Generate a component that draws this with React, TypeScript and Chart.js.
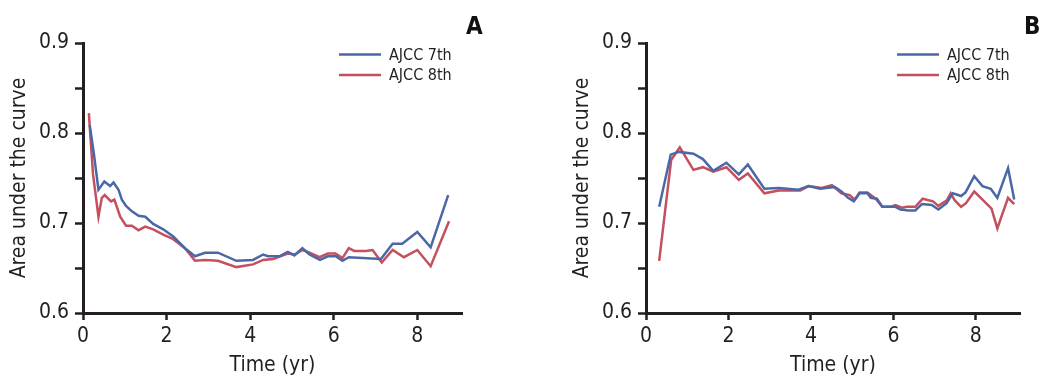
import React, { useEffect, useRef } from "react";
import { Chart, registerables } from "chart.js";

Chart.register(...registerables);

// ---------- data ----------
const seriesLabels = ["AJCC 7th", "AJCC 8th"];

// Panel A
const timeA7 = [0.16, 0.26, 0.37, 0.51, 0.65, 0.73, 0.85, 0.93, 1.03, 1.17, 1.33, 1.49, 1.68, 1.92, 2.16, 2.44, 2.68, 2.92, 3.23, 3.67, 4.07, 4.31, 4.43, 4.7, 4.9, 5.06, 5.25, 5.42, 5.67, 5.86, 6.05, 6.21, 6.36, 7.13, 7.41, 7.64, 8.0, 8.32, 8.74];
const aucA7 = [0.809, 0.777, 0.737, 0.746, 0.741, 0.745, 0.737, 0.726, 0.719, 0.713, 0.708, 0.707, 0.699, 0.693, 0.685, 0.672, 0.663, 0.667, 0.667, 0.658, 0.659, 0.665, 0.663, 0.663, 0.668, 0.664, 0.672, 0.665, 0.659, 0.663, 0.663, 0.658, 0.662, 0.66, 0.677, 0.677, 0.69, 0.673, 0.731];
const timeA8 = [0.14, 0.24, 0.37, 0.45, 0.52, 0.67, 0.75, 0.89, 1.03, 1.17, 1.33, 1.49, 1.68, 1.92, 2.16, 2.44, 2.68, 2.92, 3.23, 3.67, 4.07, 4.31, 4.55, 4.9, 5.06, 5.26, 5.42, 5.66, 5.86, 6.04, 6.21, 6.36, 6.49, 6.77, 6.93, 7.15, 7.41, 7.68, 8.0, 8.32, 8.76];
const aucA8 = [0.822, 0.754, 0.707, 0.728, 0.731, 0.724, 0.726, 0.707, 0.697, 0.697, 0.692, 0.696, 0.693, 0.687, 0.682, 0.672, 0.658, 0.659, 0.658, 0.651, 0.654, 0.659, 0.66, 0.666, 0.665, 0.67, 0.667, 0.662, 0.666, 0.666, 0.661, 0.672, 0.669, 0.669, 0.67, 0.656, 0.67, 0.662, 0.67, 0.652, 0.702];

// Panel B
const timeB7 = [0.32, 0.6, 0.8, 1.15, 1.38, 1.63, 1.95, 2.25, 2.47, 2.87, 3.22, 3.7, 3.94, 4.22, 4.58, 4.74, 4.9, 5.04, 5.18, 5.37, 5.45, 5.6, 5.73, 5.93, 6.05, 6.17, 6.37, 6.53, 6.69, 6.93, 7.09, 7.29, 7.44, 7.64, 7.75, 7.96, 8.16, 8.36, 8.52, 8.78, 8.93];
const aucB7 = [0.718, 0.776, 0.779, 0.777, 0.771, 0.758, 0.767, 0.754, 0.765, 0.738, 0.739, 0.737, 0.741, 0.738, 0.74, 0.735, 0.728, 0.724, 0.733, 0.733, 0.728, 0.727, 0.718, 0.718, 0.718, 0.715, 0.714, 0.714, 0.721, 0.72, 0.715, 0.722, 0.733, 0.73, 0.734, 0.752, 0.741, 0.738, 0.728, 0.761, 0.726];
const timeB8 = [0.32, 0.61, 0.82, 1.15, 1.38, 1.63, 1.95, 2.25, 2.47, 2.87, 3.22, 3.74, 3.94, 4.26, 4.51, 4.74, 4.94, 5.06, 5.18, 5.37, 5.57, 5.73, 5.93, 6.05, 6.21, 6.33, 6.53, 6.71, 6.96, 7.09, 7.29, 7.39, 7.49, 7.64, 7.76, 7.96, 8.16, 8.38, 8.52, 8.78, 8.93];
const aucB8 = [0.658, 0.77, 0.784, 0.759, 0.762, 0.757, 0.762, 0.748, 0.755, 0.733, 0.736, 0.736, 0.741, 0.739, 0.742, 0.733, 0.731, 0.726, 0.734, 0.734, 0.727, 0.718, 0.718, 0.72, 0.717, 0.718, 0.718, 0.727, 0.724, 0.719, 0.725, 0.733, 0.725, 0.718, 0.722, 0.735, 0.726, 0.716, 0.694, 0.728, 0.721];

// Axes
const xTickValues = [0, 2, 4, 6, 8];
const yTickValues = [0.6, 0.65, 0.7, 0.75, 0.8, 0.85, 0.9];
const yTickLabels = ["0.6", "", "0.7", "", "0.8", "", "0.9"];
const xTitle = "Time (yr)";
const yTitle = "Area under the curve";

// ---------- styles ----------
const BLUE = "#4a68a6";
const RED = "#c4505f";
const AXIS = "#231f20";
const TEXT = "#231f20";
const FAMILY = "'DejaVu Sans Condensed', 'Liberation Sans', sans-serif";
const TICK_SIZE = 21;
const TITLE_SIZE = 21;

const pair = (xs: number[], ys: number[]) => xs.map((x, i) => ({ x, y: ys[i] }));

const legendAndLetter = {
  id: "legendAndLetter",
  afterDraw(chart: any, _args: any, opts: any) {
    const { ctx, chartArea } = chart;
    ctx.save();
    chart.data.datasets.forEach((ds: any, i: number) => {
      const y = chartArea.top + 11.5 + i * 20.5;
      ctx.strokeStyle = ds.borderColor;
      ctx.lineWidth = 2.5;
      ctx.beginPath();
      ctx.moveTo(chartArea.right - 123, y);
      ctx.lineTo(chartArea.right - 81, y);
      ctx.stroke();
      ctx.fillStyle = TEXT;
      ctx.font = `16px ${FAMILY}`;
      ctx.textBaseline = "middle";
      ctx.textAlign = "left";
      ctx.fillText(ds.label, chartArea.right - 73, y + 1);
    });
    ctx.font = `bold 24px ${FAMILY}`;
    ctx.textBaseline = "alphabetic";
    ctx.textAlign = "left";
    ctx.fillStyle = "#111";
    ctx.fillText(opts.letter, chartArea.right + 4, 34);
    ctx.restore();
  },
};

function Panel(props: { letter: string; t7: number[]; a7: number[]; t8: number[]; a8: number[]; left: number; width: number; rightPad: number }) {
  const ref = useRef<HTMLCanvasElement>(null);
  useEffect(() => {
    if (!ref.current) return;
    const chart = new Chart(ref.current, {
      type: "line",
      data: {
        datasets: [
          { label: seriesLabels[0], data: pair(props.t7, props.a7), borderColor: BLUE, borderWidth: 2.5, pointRadius: 0, tension: 0, fill: false },
          { label: seriesLabels[1], data: pair(props.t8, props.a8), borderColor: RED, borderWidth: 2.5, pointRadius: 0, tension: 0, fill: false },
        ],
      },
      options: {
        animation: false,
        responsive: false,
        layout: { padding: { top: 43, right: props.rightPad, bottom: 0, left: 0 } },
        plugins: {
          legend: { display: false },
          tooltip: { enabled: false },
          legendAndLetter: { letter: props.letter },
        } as any,
        scales: {
          x: {
            type: "linear",
            min: 0,
            max: 9.07,
            afterBuildTicks: (s: any) => {
              s.ticks = xTickValues.map((v) => ({ value: v }));
            },
            afterFit: (s: any) => {
              s.height = 67;
            },
            grid: { drawOnChartArea: false, drawTicks: true, tickLength: 7, tickWidth: 2.5, tickColor: AXIS },
            border: { display: true, color: AXIS, width: 3 },
            ticks: { color: TEXT, font: { family: FAMILY, size: TICK_SIZE }, padding: 4, maxRotation: 0, autoSkip: false, callback: (v: any) => String(v) },
            title: { display: true, text: xTitle, color: TEXT, font: { family: FAMILY, size: TITLE_SIZE }, padding: { top: 0, bottom: 2 } },
          },
          y: {
            type: "linear",
            min: 0.6,
            max: 0.9,
            afterBuildTicks: (s: any) => {
              s.ticks = yTickValues.map((v) => ({ value: v }));
            },
            afterFit: (s: any) => {
              s.width = 83;
            },
            grid: { drawOnChartArea: false, drawTicks: true, tickLength: 8, tickWidth: 2.5, tickColor: AXIS },
            border: { display: true, color: AXIS, width: 3 },
            ticks: { color: TEXT, font: { family: FAMILY, size: TICK_SIZE }, padding: 6, autoSkip: false, callback: (_v: any, i: number) => yTickLabels[i] },
            title: { display: true, text: yTitle, color: TEXT, font: { family: FAMILY, size: TITLE_SIZE }, padding: { top: 7, bottom: 0 } },
          },
        },
      },
      plugins: [legendAndLetter],
    });
    return () => chart.destroy();
  }, []);
  return (
    <canvas
      ref={ref}
      width={props.width}
      height={380}
      style={{ position: "absolute", left: props.left, top: 0, width: props.width, height: 380, display: "block" }}
    />
  );
}

export default function App() {
  return (
    <div style={{ position: "absolute", left: 0, top: 0, width: 1051, height: 380, background: "#fff", overflow: "hidden" }}>
      <Panel letter="A" t7={timeA7} a7={aucA7} t8={timeA8} a8={aucA8} left={0} width={525} rightPad={63} />
      <Panel letter="B" t7={timeB7} a7={aucB7} t8={timeB8} a8={aucB8} left={563} width={488} rightPad={31} />
    </div>
  );
}
